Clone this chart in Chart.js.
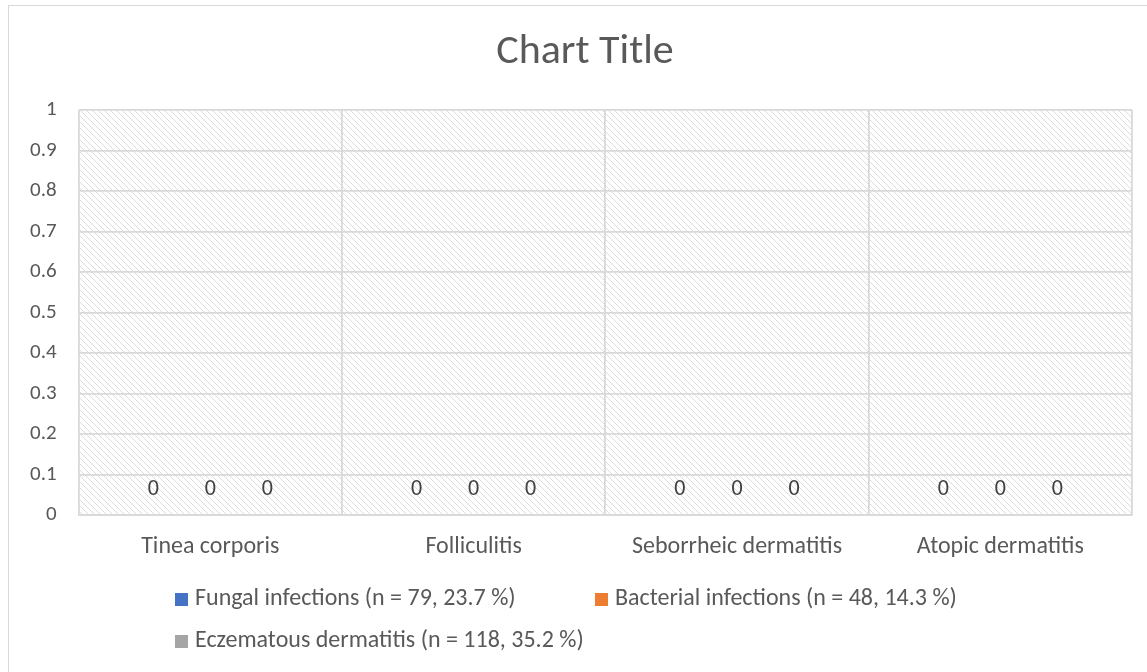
<!DOCTYPE html>
<html>
<head>
<meta charset="utf-8">
<script src="https://cdn.jsdelivr.net/npm/chart.js@4/dist/chart.umd.min.js"></script>
<style>
  html, body { margin: 0; padding: 0; background: #fff; overflow: hidden; }
  #frame { position: absolute; left: 8px; top: 5px; width: 1200px; height: 700px; border: 1px solid #d9d9d9; }
  #wrap { position: absolute; left: 0; top: 0; width: 1147px; height: 672px; }
</style>
</head>
<body>
<div id="frame"></div>
<div id="wrap"><canvas id="chart"></canvas></div>
<script>
const categories = ['Tinea corporis', 'Folliculitis', 'Seborrheic dermatitis', 'Atopic dermatitis'];
const seriesNames = [
  'Fungal infections (n = 79, 23.7 %)',
  'Bacterial infections (n = 48, 14.3 %)',
  'Eczematous dermatitis (n = 118, 35.2 %)'
];
const fungal = [0, 0, 0, 0];
const bacterial = [0, 0, 0, 0];
const eczematous = [0, 0, 0, 0];
const seriesColors = ['#4472C4', '#ED7D31', '#A5A5A5'];
const chartTitle = 'Chart Title';

const FONT = "Carlito, Lato, 'Open Sans', sans-serif";
const TEXT = '#595959';

// light diagonal hatch like Excel's plot area fill
function makeHatch() {
  const c = document.createElement('canvas');
  c.width = 6; c.height = 6;
  const g = c.getContext('2d');
  g.fillStyle = '#ffffff';
  g.fillRect(0, 0, 6, 6);
  g.fillStyle = '#dcdcdc';
  for (let i = 0; i < 6; i++) g.fillRect(i, i, 1, 1);
  return c;
}

const hatchPlugin = {
  id: 'hatch',
  beforeDraw(chart) {
    const { ctx, chartArea: a } = chart;
    ctx.save();
    ctx.fillStyle = ctx.createPattern(makeHatch(), 'repeat');
    ctx.fillRect(a.left, a.top, a.right - a.left, a.bottom - a.top);
    ctx.restore();
  }
};

const labelPlugin = {
  id: 'zeroLabels',
  afterDatasetsDraw(chart) {
    const ctx = chart.ctx;
    ctx.save();
    ctx.font = '22px ' + FONT;
    ctx.fillStyle = '#404040';
    ctx.textAlign = 'center';
    ctx.textBaseline = 'middle';
    chart.data.datasets.forEach((ds, i) => {
      chart.getDatasetMeta(i).data.forEach((bar, j) => {
        ctx.fillText(String(ds.data[j]), bar.x, bar.y - 26);
      });
    });
    ctx.restore();
  }
};

// title + Excel-style legend (two columns, rows left aligned)
const textPlugin = {
  id: 'xlText',
  afterDraw(chart) {
    const ctx = chart.ctx;
    ctx.save();
    ctx.fillStyle = TEXT;
    ctx.font = '42px ' + FONT;
    ctx.textAlign = 'center';
    ctx.textBaseline = 'middle';
    ctx.fillText(chartTitle, 585, 52);

    const cols = [175, 595];
    const rows = [599, 641];
    ctx.font = '24px ' + FONT;
    ctx.textAlign = 'left';
    chart.data.datasets.forEach((ds, i) => {
      const x = cols[i % 2], y = rows[Math.floor(i / 2)];
      ctx.fillStyle = ds.backgroundColor;
      ctx.fillRect(x, y - 6, 13, 13);
      ctx.fillStyle = TEXT;
      ctx.fillText(ds.label, x + 20, y);
    });
    ctx.restore();
  }
};

new Chart(document.getElementById('chart'), {
  type: 'bar',
  data: {
    labels: categories,
    datasets: [fungal, bacterial, eczematous].map((d, i) => ({
      label: seriesNames[i],
      data: d,
      backgroundColor: seriesColors[i],
      categoryPercentage: 0.65,
      barPercentage: 0.8
    }))
  },
  options: {
    responsive: true,
    maintainAspectRatio: false,
    animation: false,
    layout: { padding: { left: 8, right: 15, top: 110, bottom: 94 } },
    plugins: {
      legend: { display: false },
      tooltip: { enabled: false },
      title: { display: false }
    },
    scales: {
      x: {
        grid: { color: '#d9d9d9', lineWidth: 1.8, drawTicks: false, offset: true },
        border: { color: '#d9d9d9', width: 1.8 },
        ticks: { color: TEXT, font: { family: FONT, size: 24 }, padding: 17 }
      },
      y: {
        min: 0,
        max: 1,
        grid: { color: '#d9d9d9', lineWidth: 1.8, drawTicks: false },
        border: { display: false },
        ticks: {
          stepSize: 0.1,
          color: TEXT,
          font: { family: FONT, size: 21 },
          padding: 22,
          callback: v => String(Math.round(v * 10) / 10)
        }
      }
    }
  },
  plugins: [hatchPlugin, labelPlugin, textPlugin]
});
</script>
</body>
</html>
